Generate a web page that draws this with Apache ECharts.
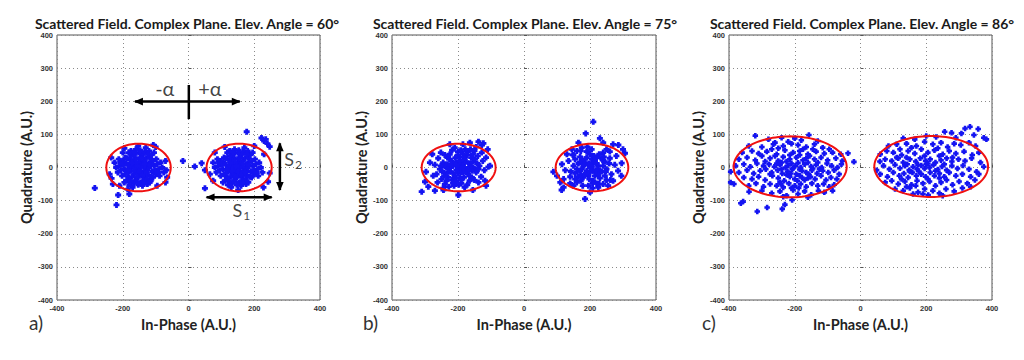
<!DOCTYPE html>
<html>
<head>
<meta charset="utf-8">
<script src="https://cdn.jsdelivr.net/npm/echarts@6/dist/echarts.min.js"></script>
<style>
html,body{margin:0;padding:0;background:#fff;}
#chart{width:1024px;height:360px;}
</style>
</head>
<body>
<div id="chart"></div>
<script>
// ---------- tick labels / titles ----------
const titles = [
  'Scattered Field. Complex Plane. Elev. Angle = 60°',
  'Scattered Field. Complex Plane. Elev. Angle = 75°',
  'Scattered Field. Complex Plane. Elev. Angle = 86°'
];
const panelLetters = ['a)', 'b)', 'c)'];
const xName = 'In-Phase (A.U.)';
const yName = 'Quadrature (A.U.)';
const axisMin = -400, axisMax = 400, xStep = 200, yStep = 100;

// ---------- ellipses [cx, cy, rx, ry] ----------
const ellipsesA = [[-152, 0, 98, 72], [154, 0, 99, 72]];
const ellipsesB = [[-198, 0, 112, 72], [206, 0, 110, 72]];
const ellipsesC = [[-214, 2, 172, 92], [215, 3, 173, 92]];

// ---------- annotation arrows in panel a [x1,y1,x2,y2,headStart,headEnd] ----------
const arrowsA = [[-163, 199, 156, 199, 1, 1], [1, 249, 1, 146, 0, 0], [278, 73, 278, -68, 1, 1], [55, -90, 253, -90, 1, 1]];
const labelsA = [[-72, 240, '-α'], [65, 240, '+α'], [318, 33, 'S|2'], [161, -122, 'S|1']];

// ---------- scatter points ----------
const pointsA_L = [[-150,0],[-140,5],[-160,-5],[-145,15],[-155,-15],[-130,-8],[-170,8],[-135,20],[-165,-20],[-125,10],[-175,-10],[-150,25],[-150,-25],[-120,-2],[-180,3],[-138,-30],[-162,30],[-115,18],[-185,-18],[-142,35],[-158,-35],[-110,-12],[-190,12],[-128,28],[-172,-28],[-105,5],[-195,-5],[-132,-18],[-168,18],[-148,8],[-152,-8],[-144,-12],[-156,12],[-136,2],[-164,-2],[-122,-22],[-178,22],[-118,30],[-182,-30],[-100,-20],[-200,20],[-95,10],[-205,-8],[-140,40],[-160,-40],[-126,-35],[-174,35],[-112,38],[-188,-38],[-150,45],[-146,-45],[-90,-5],[-210,5],[-98,25],[-202,-25],[-133,48],[-167,-48],[-108,-30],[-192,30],[-85,15],[-215,-15],[-120,50],[-180,-52],[-88,-25],[-212,25],[-140,-55],[-160,55],[-80,0],[-220,0],[-105,45],[-195,-45],[-75,-15],[-225,15],[-130,60],[-170,-60],[-125,-50],[-175,50],[-70,20],[-65,-30],[-234,-33],[-235,30],[-100,62],[-195,58],[-185,-65],[-210,-55],[-285,-62],[-219,-113],[-214,-83],[-180,-80],[-17,20],[-67,-8],[-70,-45],[-240,-20],[-95,-55],[-153,65],[-107,68],[-200,45],[-115,-40],[-190,-10],[-230,-50],
  [-145,2],[-155,4],[-150,-12],[-160,18],[-140,-22],[-133,10],[-167,-10],[-128,-15],[-172,15],[-143,28],[-157,-28],[-117,8],[-183,-8],[-137,-40],[-163,40],[-123,40],[-177,-40],[-108,20],[-192,-20],[-102,-8],[-198,8],[-147,52],[-153,-52],[-113,-28],[-187,28],[-93,-15],[-207,15],[-118,-45],[-182,45],[-135,-48],[-165,48]];
const pointsA_R = [[150,0],[160,5],[140,-5],[155,15],[145,-15],[170,-8],[130,8],[165,20],[135,-20],[175,10],[125,-10],[150,25],[150,-25],[180,-2],[120,3],[162,-30],[138,30],[185,18],[115,-18],[158,35],[142,-35],[190,-12],[110,12],[172,28],[128,-28],[195,5],[105,-5],[168,-18],[132,18],[152,8],[148,-8],[156,-12],[144,12],[164,2],[136,-2],[178,-22],[122,22],[182,30],[118,-30],[200,-20],[100,20],[205,10],[95,-8],[160,40],[140,-40],[174,-35],[126,35],[188,38],[112,-38],[150,45],[154,-45],[210,-5],[90,5],[202,25],[98,-25],[167,48],[133,-48],[192,-30],[108,30],[215,15],[85,-15],[180,50],[120,-52],[212,-25],[88,25],[160,-55],[140,55],[220,0],[80,0],[195,45],[105,-45],[225,-15],[75,15],[170,60],[130,-60],[175,-50],[125,50],[19,3],[40,13],[50,-8],[50,-63],[177,108],[222,89],[230,80],[240,72],[247,63],[235,85],[242,-43],[247,-17],[151,-68],[228,-60],[75,-40],[80,45],[110,62],[200,65],[230,40],[65,-20],
  [155,2],[145,4],[150,-12],[140,18],[160,-22],[167,10],[133,-10],[172,-15],[128,15],[157,28],[143,-28],[183,8],[117,-8],[163,-40],[137,40],[177,40],[123,-40],[192,20],[108,-20],[198,-8],[102,8],[153,52],[147,-52],[187,-28],[113,28],[207,-15],[93,15],[182,-45],[118,45],[165,-48],[135,48]];
const pointsB_L = [[-195,0],[-185,8],[-205,-8],[-190,18],[-200,-18],[-175,-5],[-215,5],[-180,25],[-210,-25],[-165,12],[-225,-12],[-195,32],[-195,-32],[-170,-20],[-220,20],[-160,30],[-230,-30],[-150,-3],[-240,3],[-185,42],[-205,-42],[-155,18],[-235,-18],[-172,38],[-218,-38],[-145,-15],[-245,15],[-200,48],[-190,-48],[-140,35],[-250,-35],[-165,-40],[-225,40],[-135,5],[-255,-5],[-178,55],[-212,-55],[-150,50],[-240,-50],[-130,-28],[-260,28],[-188,10],[-202,-10],[-192,-15],[-198,15],[-182,-30],[-208,30],[-168,0],[-222,0],[-158,-30],[-232,30],[-125,20],[-265,-20],[-145,62],[-245,-62],[-138,-45],[-252,45],[-120,-8],[-270,8],[-162,55],[-228,-58],[-210,60],[-180,-60],[-128,45],[-262,-45],[-115,30],[-275,-25],[-118,-40],[-278,40],[-205,15],[-185,-15],[-170,48],[-215,-48],[-148,25],[-242,-25],[-232,10],[-158,-10],[-164,75],[-123,73],[-108,2],[-297,-13],[-138,78],[-128,68],[-103,5],[-310,-73],[-300,-43],[-199,-83],[-244,-68],[-285,15],[-110,55],[-115,-55],[-290,-58],[-270,-70],[-155,-68],[-225,70],[-185,70],
  [-195,20],[-205,5],[-185,-5],[-175,18],[-215,-18],[-190,-38],[-200,38],[-165,-25],[-225,25],[-178,-12],[-212,12],[-160,5],[-230,-5],[-182,32],[-208,-32],[-150,-38],[-240,38],[-172,-52],[-218,52],[-142,12],[-248,-12],[-192,52],[-198,-52],[-155,40],[-235,-40],[-138,-5],[-252,5],[-168,-8],[-222,8],[-185,0]];
const pointsB_R = [[200,0],[210,10],[190,-10],[215,-15],[185,15],[225,5],[175,-5],[205,25],[195,-25],[235,-12],[165,12],[220,30],[180,-30],[245,18],[155,-18],[200,40],[210,-40],[250,-5],[150,5],[230,-32],[170,32],[260,28],[140,-28],[190,48],[220,-48],[265,-20],[135,20],[240,45],[160,-45],[180,5],[225,-5],[212,18],[188,-18],[198,12],[208,-8],[172,-22],[238,22],[148,38],[262,-38],[205,55],[195,-55],[275,8],[125,-8],[250,55],[150,-55],[130,40],[270,-40],[175,60],[225,-60],[120,-35],[280,35],[245,-25],[155,25],[215,-25],[185,25],[228,40],[172,-40],[192,62],[208,-62],[115,10],[285,-10],[160,50],[240,-50],[140,-48],[260,48],[255,-55],[145,55],[210,138],[187,103],[230,88],[286,68],[306,43],[89,-13],[114,-68],[185,-95],[296,13],[270,70],[165,75],[110,-45],[100,-25],[295,-25],[240,75],[120,-60],[200,-75],[300,55],
  [205,0],[195,8],[215,20],[185,-20],[225,-20],[175,20],[198,-35],[212,35],[235,28],[165,-28],[218,-8],[182,8],[240,5],[160,-5],[208,-48],[192,48],[250,-38],[150,38],[172,50],[228,-50],[258,12],[142,-12],[200,-15],[190,30],[220,12],[168,-10],[248,-12],[155,-35],[242,32],[178,-55]];
const pointsC_L = [[-320,96],[-157,98],[-280,85],[-240,90],[-200,88],[-180,82],[-220,78],[-130,80],[-260,75],[-340,65],[-300,62],[-265,70],[-235,65],[-210,72],[-190,68],[-165,62],[-140,70],[-115,60],[-95,55],[-250,58],[-175,55],[-360,45],[-330,50],[-310,42],[-285,48],[-255,40],[-230,52],[-205,45],[-185,50],[-160,40],[-135,48],[-110,42],[-85,45],[-60,40],[-38,43],[-270,55],[-215,38],[-145,55],[-370,25],[-345,30],[-320,22],[-300,35],[-275,28],[-250,20],[-235,32],[-215,25],[-195,30],[-175,22],[-155,35],[-140,25],[-120,30],[-100,22],[-75,28],[-55,20],[-20,17],[-290,18],[-260,35],[-225,18],[-185,38],[-165,28],[-130,15],[-395,-13],[-380,5],[-355,10],[-335,2],[-315,12],[-295,5],[-278,10],[-262,2],[-245,8],[-228,0],[-210,12],[-198,5],[-182,0],[-170,10],[-150,3],[-135,8],[-118,0],[-102,12],[-88,5],[-70,0],[-58,10],[-240,15],[-205,-2],[-160,15],[-145,-3],[-190,14],[-255,12],[-220,6],[-370,-15],[-345,-8],[-325,-18],[-305,-10],[-288,-5],[-270,-15],[-252,-8],[-238,-18],[-222,-12],[-208,-5],[-195,-20],[-178,-10],[-165,-15],[-148,-8],[-132,-18],[-115,-10],[-98,-15],[-80,-8],[-65,-20],[-212,-18],[-185,-6],[-158,-20],[-240,-5],[-275,-20],[-125,-5],[-355,-30],[-330,-35],[-310,-28],[-290,-38],[-268,-25],[-250,-32],[-232,-40],[-215,-28],[-200,-35],[-185,-25],[-170,-38],[-152,-28],[-138,-35],[-120,-25],[-105,-38],[-90,-30],[-72,-35],[-225,-22],[-192,-40],[-160,-32],[-245,-45],[-178,-30],[-340,-55],[-318,-48],[-295,-58],[-275,-50],[-255,-55],[-235,-60],[-218,-48],[-200,-55],[-182,-50],[-165,-58],[-148,-48],[-130,-55],[-112,-50],[-95,-58],[-80,-52],[-210,-62],[-188,-62],[-242,-50],[-339,-73],[-300,-70],[-270,-78],[-245,-72],[-225,-85],[-205,-68],[-190,-80],[-170,-72],[-150,-82],[-128,-70],[-110,-75],[-85,-70],[-208,-98],[-235,-88],[-160,-90],[-364,-108],[-357,-103],[-314,-133],[-284,-121],[-238,-125],[-230,-112],[-395,-45],[-385,-50]];
const pointsC_R = [[358,116],[333,123],[318,118],[383,85],[307,103],[277,105],[256,108],[130,88],[230,92],[200,95],[165,85],[345,98],[290,90],[375,90],[85,65],[110,70],[140,72],[170,65],[195,78],[220,70],[245,75],[265,62],[285,72],[305,68],[330,75],[350,65],[155,60],[235,58],[120,55],[60,40],[80,50],[100,45],[125,38],[145,50],[165,42],[185,55],[205,45],[225,52],[250,40],[270,50],[290,42],[315,48],[340,38],[360,45],[110,30],[195,35],[240,35],[280,30],[59,18],[75,25],[95,20],[115,28],[130,15],[150,25],[168,18],[182,28],[198,20],[212,25],[228,15],[245,22],[262,28],[278,18],[298,25],[318,20],[338,28],[365,15],[140,30],[205,12],[255,10],[175,8],[49,-8],[70,5],[88,-5],[105,8],[120,-2],[135,5],[148,-8],[160,2],[172,-5],[185,6],[195,-3],[210,0],[222,8],[235,-6],[248,3],[262,-8],[278,5],[295,-3],[312,6],[330,-5],[353,-13],[375,2],[142,10],[178,-12],[200,10],[228,-10],[60,-20],[82,-28],[100,-15],[118,-25],[132,-18],[145,-30],[158,-15],[170,-25],[185,-20],[198,-28],[212,-15],[225,-25],[240,-18],[255,-28],[270,-15],[290,-25],[310,-20],[335,-28],[360,-20],[150,-12],[205,-35],[125,-35],[75,-45],[95,-40],[115,-50],[135,-42],[155,-52],[172,-40],[190,-48],[210,-42],[228,-55],[245,-45],[262,-38],[280,-52],[300,-42],[325,-48],[348,-38],[168,-55],[240,-32],[140,-58],[105,-65],[130,-70],[150,-62],[175,-75],[195,-65],[206,-83],[220,-70],[240,-78],[260,-65],[285,-72],[310,-62],[335,-58],[160,-80],[250,-85],[190,-80]];

// ---------- build option ----------
const gridBoxes = [
  {left: 57, top: 35, width: 263, height: 265},
  {left: 392, top: 35, width: 264, height: 265},
  {left: 729, top: 35, width: 263, height: 265}
];
const panelCenters = [187, 525, 862];
const pointSets = [[pointsA_L, pointsA_R], [pointsB_L, pointsB_R], [pointsC_L, pointsC_R]];
const ellipseSets = [ellipsesA, ellipsesB, ellipsesC];

const tickFont = {fontSize: 7.5, fontWeight: 'bold', color: '#333', fontFamily: 'Liberation Sans, Arial, sans-serif'};
const nameFont = {fontSize: 14.5, fontWeight: 'bold', color: '#222', fontFamily: 'Lato, Open Sans, sans-serif'};

const grids = gridBoxes.map(g => Object.assign({show: true, borderColor: '#555', borderWidth: 1, backgroundColor: '#fff', containLabel: false}, g));
const xAxes = gridBoxes.map((g, i) => ({
  type: 'value', gridIndex: i, min: axisMin, max: axisMax, interval: xStep,
  name: xName, nameLocation: 'middle', nameGap: 15, nameTextStyle: nameFont,
  axisLine: {show: false}, axisTick: {show: true, inside: true, length: 3, lineStyle: {color: '#555'}},
  axisLabel: Object.assign({margin: 4}, tickFont),
  splitLine: {show: true, lineStyle: {color: '#8a8a8a', type: [1, 3], width: 1}}
}));
const yAxes = gridBoxes.map((g, i) => ({
  type: 'value', gridIndex: i, min: axisMin, max: axisMax, interval: yStep,
  name: yName, nameLocation: 'middle', nameGap: 21, nameTextStyle: nameFont,
  axisLine: {show: false}, axisTick: {show: true, inside: true, length: 3, lineStyle: {color: '#555'}},
  axisLabel: Object.assign({margin: 4}, tickFont),
  splitLine: {show: true, lineStyle: {color: '#8a8a8a', type: [1, 3], width: 1}}
}));

function ellipseItem(params, api) {
  const cx = api.value(0), cy = api.value(1), rx = api.value(2), ry = api.value(3);
  const pts = [];
  for (let k = 0; k < 120; k++) {
    const t = k / 120 * 2 * Math.PI;
    pts.push(api.coord([cx + rx * Math.cos(t), cy + ry * Math.sin(t)]));
  }
  return {type: 'polygon', shape: {points: pts}, style: {fill: 'none', stroke: '#f01010', lineWidth: 2}};
}
function arrowItem(params, api) {
  const p1 = api.coord([api.value(0), api.value(1)]);
  const p2 = api.coord([api.value(2), api.value(3)]);
  const children = [{type: 'line', shape: {x1: p1[0], y1: p1[1], x2: p2[0], y2: p2[1]}, style: {stroke: '#000', lineWidth: 2.5}}];
  const head = (tip, from) => {
    const dx = tip[0] - from[0], dy = tip[1] - from[1];
    const L = Math.hypot(dx, dy) || 1;
    const ux = dx / L, uy = dy / L, len = 8, w = 3.8;
    const bx = tip[0] - ux * len, by = tip[1] - uy * len;
    return {type: 'polygon', shape: {points: [[tip[0] + ux, tip[1] + uy], [bx - uy * w, by + ux * w], [bx + uy * w, by - ux * w]]}, style: {fill: '#000'}};
  };
  if (api.value(4)) children.push(head(p1, p2));
  if (api.value(5)) children.push(head(p2, p1));
  return {type: 'group', children: children};
}

const plusSymbol = 'path://M1.6,0H4.4V1.6H6V4.4H4.4V6H1.6V4.4H0V1.6H1.6Z';
const series = [];
pointSets.forEach((sets, i) => {
  sets.forEach(pts => {
    series.push({type: 'scatter', xAxisIndex: i, yAxisIndex: i, data: pts, symbol: plusSymbol, symbolSize: i === 2 ? 5.5 : 6,
      itemStyle: {color: '#1414f2', opacity: 1}, silent: true, z: 2});
  });
  series.push({type: 'custom', xAxisIndex: i, yAxisIndex: i, data: ellipseSets[i], renderItem: ellipseItem,
    encode: {x: 0, y: 1}, silent: true, z: 5, clip: true});
});
series.push({type: 'custom', xAxisIndex: 0, yAxisIndex: 0, data: arrowsA, renderItem: arrowItem,
  encode: {x: [0, 2], y: [1, 3]}, silent: true, z: 6});
series.push({type: 'scatter', xAxisIndex: 0, yAxisIndex: 0, data: labelsA, symbolSize: 1,
  itemStyle: {color: 'rgba(0,0,0,0)'}, silent: true, z: 7,
  label: {show: true, position: 'inside', color: '#111', fontFamily: 'Lato, Open Sans, sans-serif',
    formatter: p => {
      const parts = String(p.data[2]).split('|');
      return parts.length > 1 ? '{s|' + parts[0] + '}{sub|' + parts[1] + '}' : '{g|' + parts[0] + '}';
    },
    rich: {
      s: {fontSize: 18, color: '#111', fontFamily: 'Lato, Open Sans, sans-serif', verticalAlign: 'bottom', lineHeight: 22},
      sub: {fontSize: 12, color: '#111', fontFamily: 'Lato, Open Sans, sans-serif', verticalAlign: 'bottom', lineHeight: 14, padding: [0, 0, -3, 1]},
      g: {fontSize: 20, color: '#111', fontFamily: 'Lato, Open Sans, sans-serif'}
    }}
});

const graphics = [];
titles.forEach((t, i) => {
  graphics.push({type: 'text', x: panelCenters[i], y: 23, style: {text: t, textAlign: 'center', textVerticalAlign: 'middle',
    font: 'bold 14px Lato, "Open Sans", sans-serif', fill: '#1a1a1a'}});
});
const letterX = [29, 363, 702];
panelLetters.forEach((t, i) => {
  graphics.push({type: 'text', x: letterX[i], y: 322, style: {text: t, textAlign: 'left', textVerticalAlign: 'middle',
    font: '19px Lato, "Open Sans", sans-serif', fill: '#333'}});
});

const option = {
  backgroundColor: '#fff',
  animation: false,
  grid: grids,
  xAxis: xAxes,
  yAxis: yAxes,
  series: series,
  graphic: graphics
};
const chart = echarts.init(document.getElementById('chart'), null, {renderer: 'svg'});
chart.setOption(option);
</script>
</body>
</html>
